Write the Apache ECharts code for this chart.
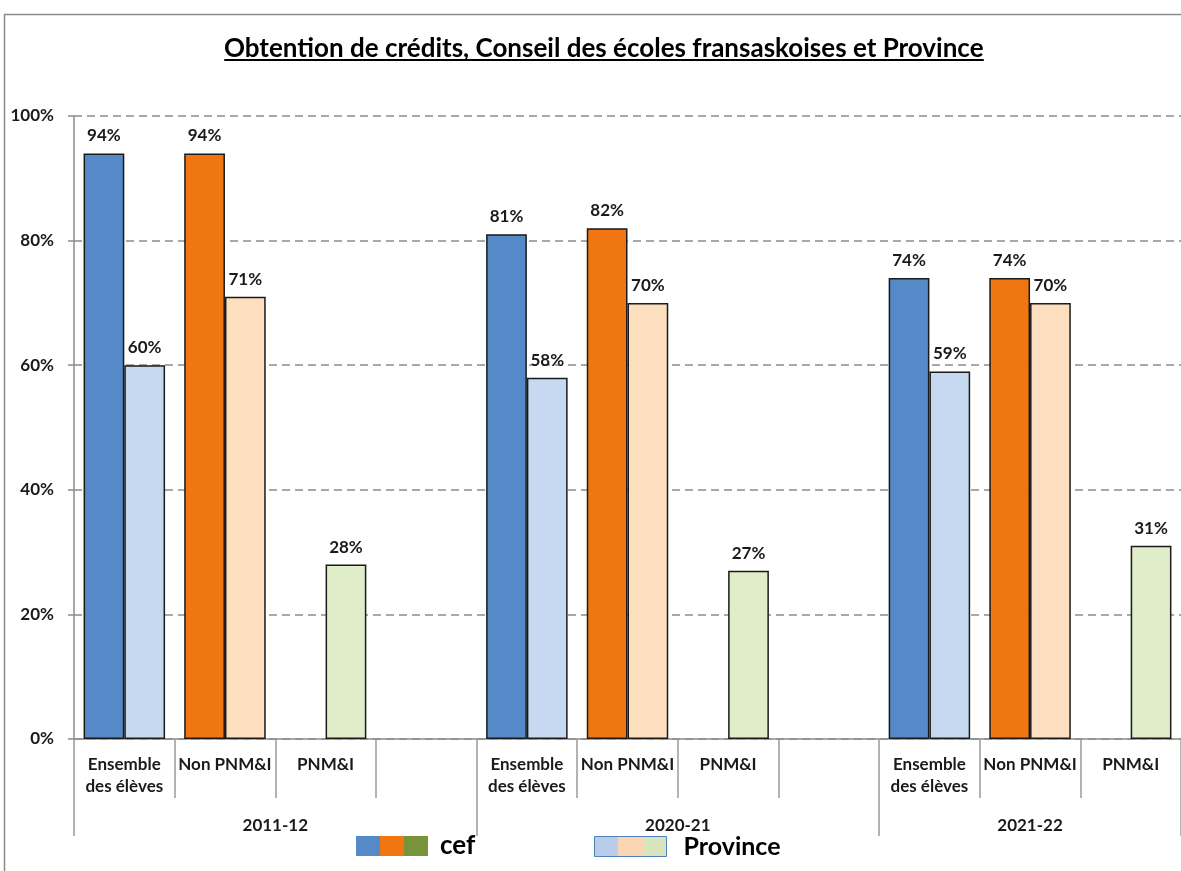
<!DOCTYPE html>
<html>
<head>
<meta charset="utf-8">
<title>Obtention de crédits</title>
<script src="https://cdn.jsdelivr.net/npm/echarts@6/dist/echarts.min.js"></script>
<style>
  html, body { margin: 0; padding: 0; background: #fff; }
  #chart { width: 1181px; height: 871px; }
</style>
</head>
<body>
<div id="chart"></div>
<script>
// --- données ---
var years = ['2011-12', '2020-21', '2021-22'];
var groupSizes = [4, 4, 3];
var categories = [
  'Ensemble\ndes élèves', 'Non PNM&I', 'PNM&I', '',
  'Ensemble\ndes élèves', 'Non PNM&I', 'PNM&I', '',
  'Ensemble\ndes élèves', 'Non PNM&I', 'PNM&I'
];
var cefValues = [94, 94, null, null, 81, 82, null, null, 74, 74, null];
var provinceValues = [60, 71, 28, null, 58, 70, 27, null, 59, 70, 31];
var yTicks = [0, 20, 40, 60, 80, 100];

// couleurs par sous-catégorie (Ensemble, Non PNM&I, PNM&I)
var cefColors = ['#5589c8', '#f07612', '#77933c'];
var provColors = ['#c6d9f0', '#fddfc0', '#e0edc9'];

var titleText = 'Obtention de crédits, Conseil des écoles fransaskoises et Province';
var fontFam = 'Lato, "Open Sans", sans-serif';
var titleSize = 26;
var titleCenter = 604;

// position du milieu de chaque année et des séparateurs
var groupEdges = [0], yearMid = [];
groupSizes.forEach(function (n, i) {
  yearMid.push(groupEdges[i] + n / 2);
  groupEdges.push(groupEdges[i] + n);
});

function subIndex(i) {
  var start = 0;
  for (var g = 0; g < groupSizes.length; g++) {
    if (i < start + groupSizes[g]) return i - start;
    start += groupSizes[g];
  }
  return 0;
}

function buildData(values, colors) {
  return values.map(function (v, i) {
    if (v === null) return '-';
    return { value: v, itemStyle: { color: colors[subIndex(i) % colors.length] } };
  });
}

function stripes(cols) {
  var stops = [];
  cols.forEach(function (c, i) {
    stops.push({ offset: i / cols.length, color: c });
    stops.push({ offset: (i + 1) / cols.length, color: c });
  });
  return { type: 'linear', x: 0, y: 0, x2: 1, y2: 0, colorStops: stops };
}

// largeur du titre pour le soulignement
var ctx = document.createElement('canvas').getContext('2d');
ctx.font = 'bold ' + titleSize + 'px ' + fontFam;
var titleW = ctx.measureText(titleText).width;

var chart = echarts.init(document.getElementById('chart'));

var labelStyle = {
  show: true,
  position: 'top',
  distance: 9,
  formatter: '{c}%',
  fontFamily: fontFam,
  fontWeight: 'bold',
  fontSize: 17,
  color: '#1a1a1a'
};

var option = {
  backgroundColor: '#fff',
  animation: false,
  title: {
    text: titleText,
    left: Math.round(titleCenter - titleW / 2) - 5,
    top: 31,
    textStyle: { fontFamily: fontFam, fontWeight: 'bold', fontSize: titleSize, color: '#000' }
  },
  graphic: [
    {
      type: 'rect', left: 2, top: 12, silent: true,
      shape: { width: 1300, height: 1000 },
      style: { fill: null, stroke: '#8a8a8a', lineWidth: 1.5 }
    },
    {
      type: 'line', silent: true,
      shape: { x1: titleCenter - titleW / 2, y1: 60, x2: titleCenter + titleW / 2, y2: 60 },
      style: { stroke: '#000', lineWidth: 1.8 }
    }
  ],
  legend: [
    {
      left: 351, top: 828,
      itemWidth: 72, itemHeight: 20,
      icon: 'rect',
      data: [{ name: 'cef', itemStyle: { color: stripes(cefColors), borderWidth: 0 } }],
      textStyle: { fontFamily: fontFam, fontWeight: 'bold', fontSize: 26, color: '#000', padding: [0, 0, 0, 7] },
      selectedMode: false
    },
    {
      left: 589, top: 829,
      itemWidth: 72, itemHeight: 20,
      icon: 'rect',
      data: [{ name: 'Province', itemStyle: { color: stripes(['#b9cde8', '#fcd5b4', '#d7e4bd']), borderColor: '#4f81bd', borderWidth: 1 } }],
      textStyle: { fontFamily: fontFam, fontWeight: 'bold', fontSize: 25, color: '#000', padding: [0, 0, 0, 12] },
      selectedMode: false
    }
  ],
  grid: [
    { left: 74, right: -4, top: 116, bottom: 132 },
    { left: 74, right: -4, top: 116, bottom: 132 }
  ],
  xAxis: [
    {
      type: 'category',
      gridIndex: 0,
      data: categories,
      axisLine: { lineStyle: { color: '#8c8c8c', width: 1.5 } },
      axisTick: { show: true, interval: 0, alignWithLabel: false, length: 59, lineStyle: { color: '#9a9a9a', width: 1.5 } },
      axisLabel: {
        interval: 0, margin: 15,
        fontFamily: fontFam, fontWeight: 'bold', fontSize: 17, lineHeight: 22, color: '#1a1a1a'
      }
    },
    {
      type: 'value',
      gridIndex: 1,
      min: 0,
      max: groupEdges[groupEdges.length - 1],
      axisLine: { show: false },
      splitLine: { show: false },
      axisTick: { show: true, length: 97, customValues: groupEdges, lineStyle: { color: '#9a9a9a', width: 1.5 } },
      axisLabel: {
        margin: 78,
        customValues: yearMid,
        formatter: function (v) { return years[yearMid.indexOf(v)]; },
        fontFamily: fontFam, fontWeight: 'bold', fontSize: 17, color: '#1a1a1a'
      }
    }
  ],
  yAxis: [
    {
      type: 'value',
      gridIndex: 0,
      min: yTicks[0],
      max: yTicks[yTicks.length - 1],
      interval: yTicks[1] - yTicks[0],
      axisLine: { show: true, lineStyle: { color: '#8c8c8c', width: 1.5 } },
      axisTick: { show: true, length: 6, lineStyle: { color: '#8c8c8c', width: 1.5 } },
      axisLabel: {
        margin: 20,
        formatter: '{value}%',
        fontFamily: fontFam, fontWeight: 'bold', fontSize: 17, color: '#1a1a1a'
      },
      splitLine: { show: true, lineStyle: { color: '#8c8c8c', width: 1.5, type: [8, 5] } }
    },
    { type: 'value', gridIndex: 1, min: 0, max: 100, show: false }
  ],
  series: [
    {
      name: 'cef',
      type: 'bar',
      xAxisIndex: 0, yAxisIndex: 0,
      barGap: '0%',
      barCategoryGap: '19%',
      itemStyle: { color: cefColors[0], borderColor: '#1a1a1a', borderWidth: 1.5 },
      label: labelStyle,
      data: buildData(cefValues, cefColors)
    },
    {
      name: 'Province',
      type: 'bar',
      xAxisIndex: 0, yAxisIndex: 0,
      barGap: '0%',
      barCategoryGap: '19%',
      itemStyle: { color: provColors[0], borderColor: '#1a1a1a', borderWidth: 1.5 },
      label: labelStyle,
      data: buildData(provinceValues, provColors)
    }
  ]
};

chart.setOption(option);
</script>
</body>
</html>
